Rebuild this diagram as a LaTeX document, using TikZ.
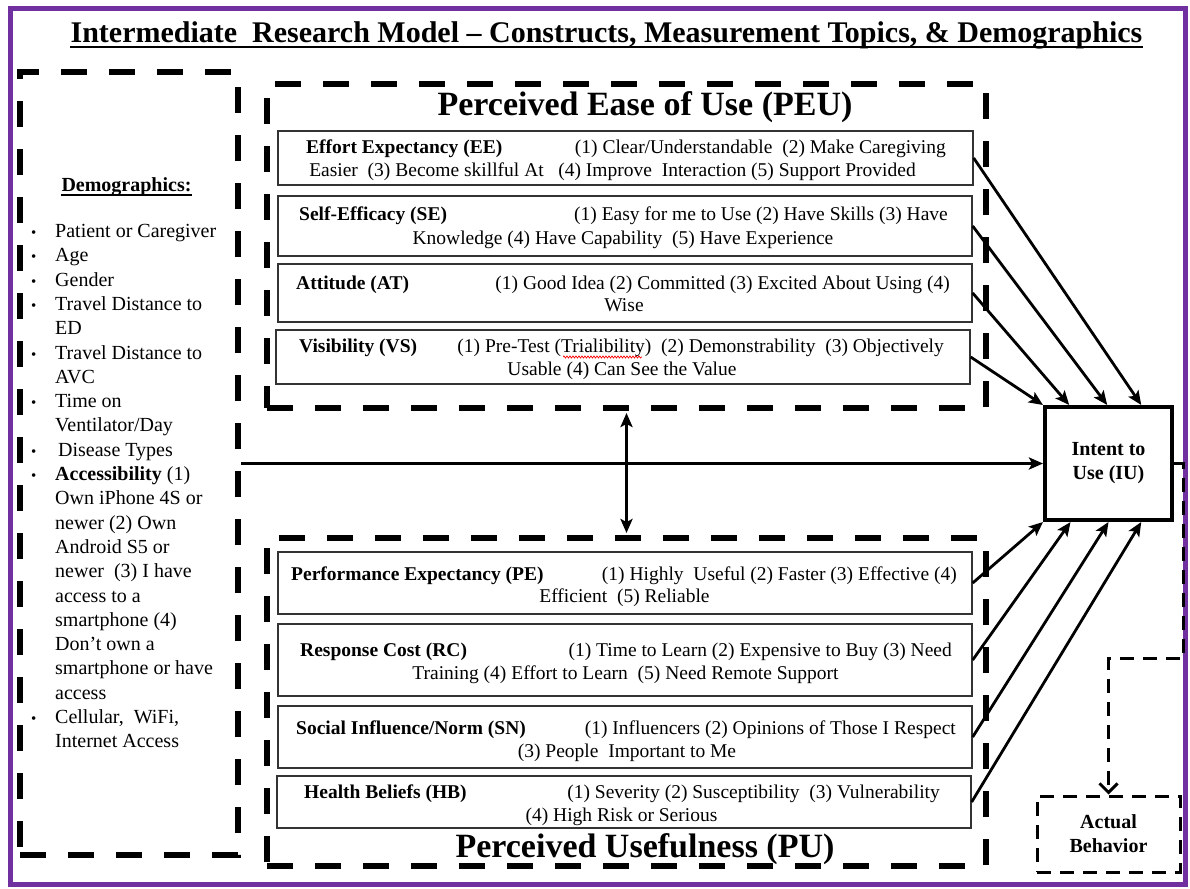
\documentclass[tikz,border=0pt]{standalone}
\usepackage{fontspec}
\setmainfont{Liberation Serif}
\usetikzlibrary{arrows.meta,fit,decorations.pathmorphing,calc}
\definecolor{framepurple}{RGB}{112,48,160}
\newcommand{\boxfont}{\fontsize{19.5}{23}\selectfont}
\newcommand{\demofont}{\fontsize{20}{24.3}\selectfont}
\newcommand{\smallbul}{{\fontsize{15}{15}\selectfont\textbullet}}
\begin{document}
\begin{tikzpicture}[x=1pt,y=-1pt,
  bigdash/.style={draw, line width=6pt, dash pattern=on 26pt off 22pt, inner sep=0pt},
  cbox/.style={draw=black!80, line width=1.3pt, inner sep=0pt},
  lbl/.style={font=\boxfont\bfseries, inner sep=0pt, anchor=base west},
  itm/.style={font=\boxfont, inner sep=0pt, anchor=base east},
  cnt/.style={font=\boxfont, inner sep=0pt, anchor=base},
  arr/.style={line width=2.8pt, -{Stealth[length=14pt,width=12pt,inset=3pt]}},
  dbl/.style={line width=2.8pt, {Stealth[length=14pt,width=12pt,inset=3pt]}-{Stealth[length=14pt,width=12pt,inset=3pt]}},
  thindash/.style={line width=3pt, dash pattern=on 14pt off 9pt},
  heading/.style={font=\fontsize{34}{40}\selectfont\bfseries, inner sep=0pt, anchor=base}
]
\useasboundingbox (0,0) rectangle (1190,888);
\fill[white] (0,0) rectangle (1190,888);
\draw[framepurple, line width=5pt] (10,9) rectangle (1185,884);

% title
\node[font=\fontsize{30}{36}\selectfont\bfseries, inner sep=0pt, anchor=base] (title) at (606.5,43)
  {Intermediate\ \ Research Model – Constructs, Measurement Topics,\ \& Demographics};
\draw[line width=1.8pt] ([yshift=-4pt]title.base west) -- ([yshift=-4pt]title.base east);

% dashed group boxes
\node[bigdash, fit={(20,72)(238,855)}] (demo) {};
\node[bigdash, fit={(267,84)(986,408)}] (peu) {};
\node[bigdash, fit={(267,538)(986,866)}] (pu) {};

% demographics
\node[font=\demofont\bfseries, inner sep=0pt, anchor=base] (demohead) at (126.5,191) {Demographics:};
\draw[line width=1.3pt] ([yshift=-4pt]demohead.base west) -- ([yshift=-4pt]demohead.base east);
\node[font=\demofont, inner sep=0pt, anchor=base west] (demolist) at (31,237.5) {%
\begin{tabular}[t]{@{}p{24pt}@{}l@{}}
\smallbul & Patient or Caregiver\\
\smallbul & Age\\
\smallbul & Gender\\
\smallbul & Travel Distance to\\
 & ED\\
\smallbul & Travel Distance to\\
 & AVC\\
\smallbul & Time on\\
 & Ventilator/Day\\
\smallbul & \hspace{3pt}Disease Types\\
\smallbul & \textbf{Accessibility} (1)\\
 & Own iPhone 4S or\\
 & newer (2) Own\\
 & Android\ S5 or\\
 & newer\ \ (3) I have\\
 & access to a\\
 & smartphone (4)\\
 & Don’t own a\\
 & smartphone or have\\
 & access\\
\smallbul & Cellular,\ \ WiFi,\\
 & Internet Access
\end{tabular}};

% PEU
\node[heading] (peutitle) at (645,116) {Perceived Ease of Use (PEU)};
\node[cbox, fit={(278,131)(973,185)}] (ee) {};
\node[cbox, fit={(278,196)(972,256)}] (se) {};
\node[cbox, fit={(278,264)(972,322)}] (at) {};
\node[cbox, fit={(276,330)(970,384)}] (vs) {};

\node[lbl] (eel) at (306,153.5) {Effort Expectancy (EE)};
\node[itm] (eei) at (946,153.5) {(1) Clear/Understandable\ \ (2) Make Caregiving};
\node[cnt] (eec) at (612.5,176.5) {Easier\ \ (3) Become skillful At\ \ \ (4) Improve\ \ Interaction (5) Support Provided};

\node[lbl] (sel) at (299,220.5) {Self-Efficacy (SE)};
\node[itm] (sei) at (948,220.5) {(1) Easy for me to Use (2) Have Skills\ (3) Have};
\node[cnt] (sec) at (623,244.5) {Knowledge (4) Have Capability\ \ (5) Have Experience};

\node[lbl] (atl) at (296,289.5) {Attitude (AT)};
\node[itm] (ati) at (950,289.5) {(1) Good Idea (2) Committed (3) Excited About Using\ (4)};
\node[cnt] (atc) at (624,311.5) {Wise};

\node[lbl] (vsl) at (299,352.5) {Visibility (VS)};
\node[itm] (vsi) at (944,352.5) {(1) Pre-Test (Trialibility)\ \ (2) Demonstrability\ \ (3) Objectively};
\node[cnt] (vsc) at (622,375.5) {Usable (4) Can See the Value};
\draw[red, line width=0.7pt, decorate, decoration={snake, amplitude=1pt, segment length=3pt}] (563,357) -- (642,357);

% PU
\node[heading] (putitle) at (645,857) {Perceived Usefulness (PU)};
\node[cbox, fit={(278,552)(972,614)}] (pe) {};
\node[cbox, fit={(278,624)(972,696)}] (rc) {};
\node[cbox, fit={(278,706)(972,768)}] (sn) {};
\node[cbox, fit={(277,776)(971,828)}] (hb) {};

\node[lbl] (pel) at (291,580.5) {Performance Expectancy (PE)};
\node[itm] (pei) at (957,580.5) {(1) Highly\ \ Useful (2) Faster (3) Effective (4)};
\node[cnt] (pec) at (624.5,602.5) {Efficient\ \ (5) Reliable};

\node[lbl] (rcl) at (300,656.5) {Response Cost (RC)};
\node[itm] (rci) at (952,656.5) {(1) Time to Learn (2) Expensive to Buy (3) Need};
\node[cnt] (rcc) at (625.5,679.5) {Training (4) Effort to Learn\ \ (5) Need Remote Support};

\node[lbl] (snl) at (296,734.5) {Social Influence/Norm (SN)};
\node[itm] (sni) at (956,734.5) {(1) Influencers (2) Opinions of Those I Respect};
\node[cnt] (snc) at (627,757.5) {(3) People\ \ Important to Me};

\node[lbl] (hbl) at (304,798.5) {Health Beliefs (HB)};
\node[itm] (hbi) at (940,798.5) {(1) Severity (2) Susceptibility\ \ (3) Vulnerability};
\node[cnt] (hbc) at (621.5,821.5) {(4) High Risk or Serious};

% outcome boxes
\node[draw, line width=4pt, minimum width=127pt, minimum height=113pt, align=center,
      font=\fontsize{20}{24}\selectfont\bfseries] (iu) at (1108.5,463.5) {Intent to\\Use (IU)};
\node[draw, thindash, minimum width=143pt, minimum height=76pt, align=center,
      font=\fontsize{20}{24}\selectfont\bfseries] (ab) at (1108.5,834) {Actual\\Behavior};
\coordinate (bend) at (1183,658);

% connectors
\draw[arr] (ee.east) -- ($(iu.north west)!0.75!(iu.north east)$);
\draw[arr] (se.east) -- ($(iu.north west)!0.49!(iu.north east)$);
\draw[arr] (at.east) -- ($(iu.north west)!0.2!(iu.north east)$);
\draw[arr] (vs.east) -- (iu.north west);
\draw[arr] (pe.east) -- (iu.south west);
\draw[arr] (rc.east) -- ($(iu.south west)!0.21!(iu.south east)$);
\draw[arr] (sn.east) -- ($(iu.south west)!0.5!(iu.south east)$);
\draw[arr] (hb.east) -- ($(iu.south west)!0.75!(iu.south east)$);
\draw[arr] (demo.east) -- (iu.west);
\draw[dbl, shorten <=2pt, shorten >=2pt] (peu.south) -- (pu.north);
\draw[thindash, -{Straight Barb[length=9pt,width=18pt]}] (iu.east) -| (bend) -| (ab.north);
\end{tikzpicture}
\end{document}
